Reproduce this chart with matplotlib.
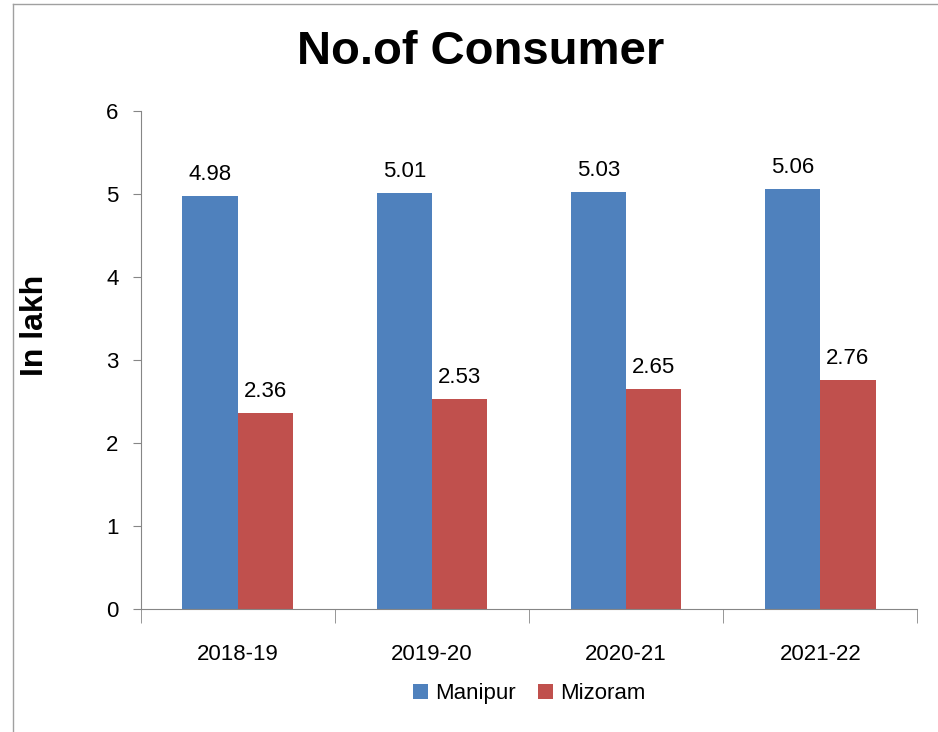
import matplotlib.pyplot as plt
import numpy as np
from matplotlib.lines import Line2D

years = ['2018-19', '2019-20', '2020-21', '2021-22']
manipur = [4.98, 5.01, 5.03, 5.06]
mizoram = [2.36, 2.53, 2.65, 2.76]

blue = '#4F81BD'
red = '#C0504D'

plt.rcParams['font.family'] = ['Liberation Sans', 'DejaVu Sans']

fig = plt.figure(figsize=(9.38, 7.32), dpi=100)
ax = fig.add_axes([0.150, 0.168, 0.828, 0.680])

x = np.arange(len(years))
w = 0.285
b1 = ax.bar(x - w / 2, manipur, w, color=blue, label='Manipur')
b2 = ax.bar(x + w / 2, mizoram, w, color=red, label='Mizoram')

for bars, vals in ((b1, manipur), (b2, mizoram)):
    for r, v in zip(bars, vals):
        ax.annotate(f'{v:.2f}', (r.get_x() + r.get_width() / 2, v),
                    xytext=(0, 8), textcoords='offset points',
                    ha='center', va='bottom', fontsize=16)

ax.set_xlim(-0.5, len(years) - 0.5)
ax.set_ylim(0, 6)
ax.set_yticks(range(7))
ax.set_xticks(x)
ax.set_xticklabels(years, fontsize=16)
ax.set_xticks(np.arange(-0.5, len(years)), minor=True)
ax.tick_params(axis='x', which='major', length=0, pad=25)
ax.tick_params(axis='x', which='minor', length=10, color='#868686')
ax.tick_params(axis='y', length=6, color='#868686', labelsize=16, pad=10)

for s in ('top', 'right'):
    ax.spines[s].set_visible(False)
for s in ('left', 'bottom'):
    ax.spines[s].set_color('#868686')

ax.set_ylabel('In lakh', fontsize=23, fontweight='bold')
ax.yaxis.set_label_coords(-0.117, 0.57)
fig.text(0.512, 0.929, 'No.of Consumer', ha='center', va='center',
         fontsize=34, fontweight='bold')

ax.legend(loc='center', bbox_to_anchor=(0.5, -0.17), ncol=2, frameon=False,
          fontsize=16, handlelength=0.7, handleheight=0.7, columnspacing=1.0,
          handletextpad=0.3)

# chart area border (left and top edges visible)
fig.add_artist(Line2D([13 / 938, 13 / 938], [0, 1 - 4 / 732],
                      transform=fig.transFigure, color='#A0A0A0', lw=1))
fig.add_artist(Line2D([13 / 938, 1], [1 - 4 / 732, 1 - 4 / 732],
                      transform=fig.transFigure, color='#A0A0A0', lw=1))

fig.savefig('out.png', dpi=100)
